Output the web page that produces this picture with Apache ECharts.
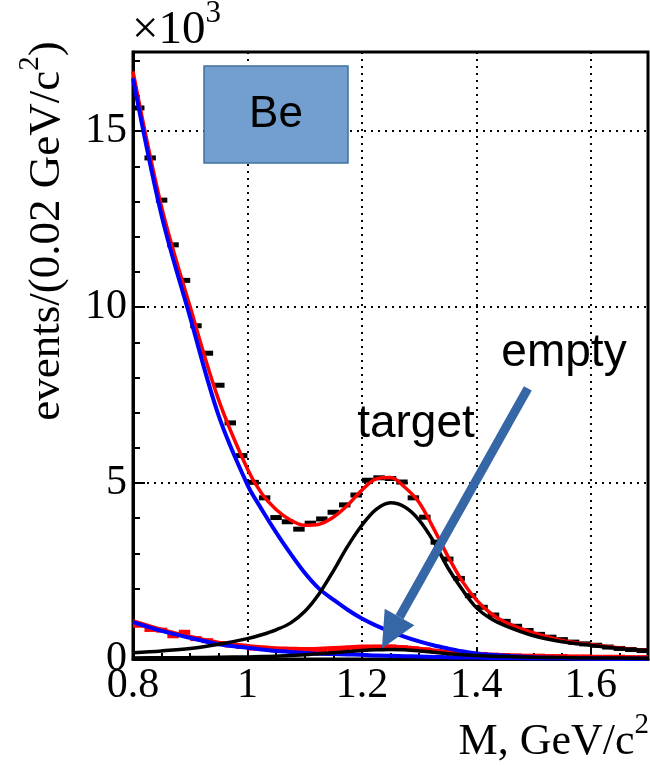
<!DOCTYPE html>
<html>
<head>
<meta charset="utf-8">
<script src="https://cdn.jsdelivr.net/npm/echarts@6/dist/echarts.min.js"></script>
<style>
  html, body { margin: 0; padding: 0; background: #fff; }
  #chart { width: 650px; height: 767px; }
</style>
</head>
<body>
<div id="chart"></div>
<script>
// Invariant-mass spectrum, Be target: counts per 0.02 GeV/c^2 bin (in thousands)
const binWidth = 0.02;
const binCenters = [0.81, 0.83, 0.85, 0.87, 0.89, 0.91, 0.93, 0.95, 0.97, 0.99,
  1.01, 1.03, 1.05, 1.07, 1.09, 1.11, 1.13, 1.15, 1.17, 1.19,
  1.21, 1.23, 1.25, 1.27, 1.29, 1.31, 1.33, 1.35, 1.37, 1.39,
  1.41, 1.43, 1.45, 1.47, 1.49, 1.51, 1.53, 1.55, 1.57, 1.59,
  1.61, 1.63, 1.65, 1.67, 1.69];
const targetCounts = [15.66, 14.24, 13.04, 11.77, 10.76, 9.47, 8.69, 7.78, 6.71, 5.78,
  5.02, 4.58, 4.02, 3.90, 3.69, 3.86, 3.98, 4.17, 4.38, 4.66,
  5.08, 5.15, 5.13, 5.03, 4.58, 4.03, 3.32, 2.84, 2.29, 1.80,
  1.47, 1.25, 1.07, 0.93, 0.81, 0.70, 0.62, 0.55, 0.48, 0.43,
  0.39, 0.34, 0.30, 0.27, 0.24];
const emptyCounts = [0.96, 0.84, 0.82, 0.66, 0.76, 0.58, 0.52, 0.44, 0.40, 0.36,
  0.31, 0.30, 0.26, 0.25, 0.22, 0.24, 0.27, 0.26, 0.28, 0.30,
  0.31, 0.33, 0.34, 0.32, 0.29, 0.26, 0.22, 0.19, 0.17, 0.14,
  0.13, 0.11, 0.10, 0.09, 0.08, 0.08, 0.07, 0.07, 0.06, 0.06,
  0.05, 0.05, 0.05, 0.04, 0.04];

// Fit curves sampled along the mass axis
const fitX = [0.80, 0.85, 0.90, 0.95, 1.00, 1.025, 1.05, 1.075, 1.10, 1.125,
  1.15, 1.175, 1.20, 1.225, 1.25, 1.275, 1.30, 1.325, 1.35, 1.375,
  1.40, 1.425, 1.45, 1.50, 1.55, 1.60, 1.65, 1.70];
const targetTotal = [16.7, 12.85, 10.0, 7.35, 5.4, 4.7, 4.25, 3.95, 3.8, 3.83,
  4.03, 4.37, 4.8, 5.12, 5.16, 4.88, 4.45, 3.72, 2.93, 2.22,
  1.68, 1.3, 1.05, 0.74, 0.53, 0.41, 0.31, 0.24];
const targetBkg = [16.5, 12.6, 9.7, 6.9, 4.95, 4.25, 3.6, 3.0, 2.45, 2.0,
  1.69, 1.4, 1.15, 0.95, 0.78, 0.63, 0.5, 0.39, 0.3, 0.22,
  0.16, 0.12, 0.09, 0.05, 0.03, 0.02, 0.01, 0.01];
const targetSig = [0.18, 0.23, 0.30, 0.42, 0.58, 0.69, 0.83, 1.02, 1.35, 1.85,
  2.5, 3.2, 3.8, 4.25, 4.44, 4.32, 3.95, 3.35, 2.6, 1.98,
  1.46, 1.15, 0.95, 0.66, 0.49, 0.39, 0.30, 0.24];
const emptyTotal = [1.08, 0.84, 0.64, 0.47, 0.38, 0.34, 0.31, 0.30, 0.29, 0.30,
  0.32, 0.34, 0.36, 0.36, 0.36, 0.34, 0.30, 0.25, 0.20, 0.16,
  0.14, 0.11, 0.10, 0.07, 0.06, 0.04, 0.04, 0.03];
const emptyBkg = [1.05, 0.80, 0.60, 0.42, 0.32, 0.27, 0.23, 0.20, 0.17, 0.15,
  0.14, 0.13, 0.12, 0.10, 0.09, 0.08, 0.07, 0.06, 0.05, 0.04,
  0.04, 0.03, 0.03, 0.02, 0.02, 0.01, 0.01, 0.01];
const emptySig = [0.03, 0.035, 0.04, 0.05, 0.06, 0.07, 0.08, 0.10, 0.12, 0.15,
  0.18, 0.21, 0.24, 0.26, 0.27, 0.26, 0.23, 0.19, 0.15, 0.12,
  0.10, 0.08, 0.07, 0.05, 0.04, 0.03, 0.03, 0.02];

// Axis ranges and tick steps
const xRange = [0.8, 1.7];
const xMajor = 0.2, xMinor = 0.05;
const yRange = [0, 17.25];
const yMajor = 5, yMinor = 1;

// Annotation: arrow from the "empty" label down to the empty-target fit
const arrowTail = [1.49, 7.69];
const arrowTip = [1.235, 0.30];

const SERIF = '"Liberation Serif", "Times New Roman", serif';
const SANS = '"Liberation Sans", Arial, sans-serif';

const pairs = (xs, ys) => xs.map((x, i) => [x, ys[i]]);

function dashSeries(name, xs, ys, color) {
  return {
    name, type: 'custom', xAxisIndex: 0, yAxisIndex: 0, z: 2,
    data: pairs(xs, ys),
    renderItem(params, api) {
      const x = api.value(0), y = api.value(1);
      const a = api.coord([x - binWidth / 2, y]);
      const b = api.coord([x + binWidth / 2, y]);
      return {
        type: 'rect',
        shape: { x: a[0], y: a[1] - 2.5, width: b[0] - a[0], height: 5 },
        style: { fill: color }
      };
    }
  };
}

function curve(name, ys, color, width, z) {
  return {
    name, type: 'line', xAxisIndex: 0, yAxisIndex: 0,
    data: pairs(fitX, ys), showSymbol: false, smooth: 0.35, z,
    lineStyle: { color, width }, silent: true
  };
}

const chart = echarts.init(document.getElementById('chart'), null, { renderer: 'canvas' });

const gridLine = { show: true, lineStyle: { color: '#000', width: 2, type: [2, 5] } };

chart.setOption({
  animation: false,
  backgroundColor: '#fff',
  grid: { left: 133, right: 2, top: 52, bottom: 108, show: true, borderColor: '#000', borderWidth: 3, backgroundColor: 'transparent' },
  xAxis: [
    {
      type: 'value', min: xRange[0], max: xRange[1], interval: xMajor, position: 'bottom',
      axisLine: { onZero: false, lineStyle: { color: '#000', width: 3 } },
      axisTick: { inside: true, length: 12, lineStyle: { color: '#000', width: 2 } },
      axisLabel: { color: '#000', fontFamily: SERIF, fontSize: 42, margin: 6, showMaxLabel: false },
      splitLine: gridLine
    },
    {
      type: 'value', min: xRange[0], max: xRange[1], interval: xMinor, position: 'bottom',
      axisLine: { show: false },
      axisTick: { inside: true, length: 6, lineStyle: { color: '#000', width: 2 } },
      axisLabel: { show: false }, splitLine: { show: false }
    }
  ],
  yAxis: [
    {
      type: 'value', min: yRange[0], max: yRange[1], interval: yMajor, position: 'left',
      axisLine: { onZero: false, lineStyle: { color: '#000', width: 3 } },
      axisTick: { inside: true, length: 12, lineStyle: { color: '#000', width: 2 } },
      axisLabel: { color: '#000', fontFamily: SERIF, fontSize: 42, margin: 6, showMaxLabel: false },
      splitLine: gridLine
    },
    {
      type: 'value', min: yRange[0], max: yRange[1], interval: yMinor, position: 'left',
      axisLine: { show: false },
      axisTick: { inside: true, length: 7, lineStyle: { color: '#000', width: 2 } },
      axisLabel: { show: false }, splitLine: { show: false }
    }
  ],
  series: [
    dashSeries('target data', binCenters, targetCounts, '#000'),
    dashSeries('empty data', binCenters, emptyCounts, '#ff0000'),
    curve('empty total', emptyTotal, '#ff0000', 3.5, 3),
    curve('empty background', emptyBkg, '#0000ff', 4, 4),
    curve('empty signal', emptySig, '#000000', 3.5, 5),
    curve('target total', targetTotal, '#ff0000', 3.5, 3),
    curve('target background', targetBkg, '#0000ff', 4, 4),
    curve('target signal', targetSig, '#000000', 3.5, 5)
  ]
});

// Titles, labels and the arrow annotation
const tail = chart.convertToPixel({ gridIndex: 0 }, arrowTail);
const tip = chart.convertToPixel({ gridIndex: 0 }, arrowTip);
const dx = tip[0] - tail[0], dy = tip[1] - tail[1];
const len = Math.hypot(dx, dy);
const ux = dx / len, uy = dy / len;
const headLen = 36, headHalf = 17;
const base = [tip[0] - ux * headLen, tip[1] - uy * headLen];
const arrowColor = '#3566a5';

const supRich = (size) => ({
  n: { fontFamily: SERIF, fontSize: size, fill: '#000' },
  s: { fontFamily: SERIF, fontSize: Math.round(size * 0.65), fill: '#000', padding: [0, 0, Math.round(size * 0.75), 0] }
});

chart.setOption({
  graphic: [
    {
      type: 'rect', z: 10,
      shape: { x: 204, y: 66, width: 144, height: 97 },
      style: { fill: '#729fcf', stroke: '#41719c', lineWidth: 1.5 }
    },
    {
      type: 'text', z: 11, x: 276, y: 115,
      style: { text: 'Be', font: '44px ' + SANS, fill: '#000', align: 'center', verticalAlign: 'middle' }
    },
    {
      type: 'text', z: 11, x: 416, y: 424,
      style: { text: 'target', font: '46px ' + SANS, fill: '#000', align: 'center', verticalAlign: 'middle' }
    },
    {
      type: 'text', z: 11, x: 564, y: 353,
      style: { text: 'empty', font: '46px ' + SANS, fill: '#000', align: 'center', verticalAlign: 'middle' }
    },
    {
      type: 'line', z: 12,
      shape: { x1: tail[0], y1: tail[1], x2: base[0], y2: base[1] },
      style: { stroke: arrowColor, lineWidth: 9 }
    },
    {
      type: 'polygon', z: 12,
      shape: { points: [tip, [base[0] - uy * headHalf, base[1] + ux * headHalf], [base[0] + uy * headHalf, base[1] - ux * headHalf]] },
      style: { fill: arrowColor }
    },
    {
      type: 'text', z: 11, x: 132, y: 31,
      style: { text: '{n|×10}{s|3}', rich: supRich(47), align: 'left', verticalAlign: 'middle' }
    },
    {
      type: 'text', z: 11, x: 649, y: 742,
      style: { text: '{n|M, GeV/c}{s|2}', rich: supRich(44), align: 'right', verticalAlign: 'middle' }
    },
    {
      type: 'text', z: 11, x: 47, y: 231, rotation: Math.PI / 2,
      style: { text: '{n|events/(0.02 GeV/c}{s|2}{n|)}', rich: supRich(45), align: 'center', verticalAlign: 'middle' }
    }
  ]
});
</script>
</body>
</html>
